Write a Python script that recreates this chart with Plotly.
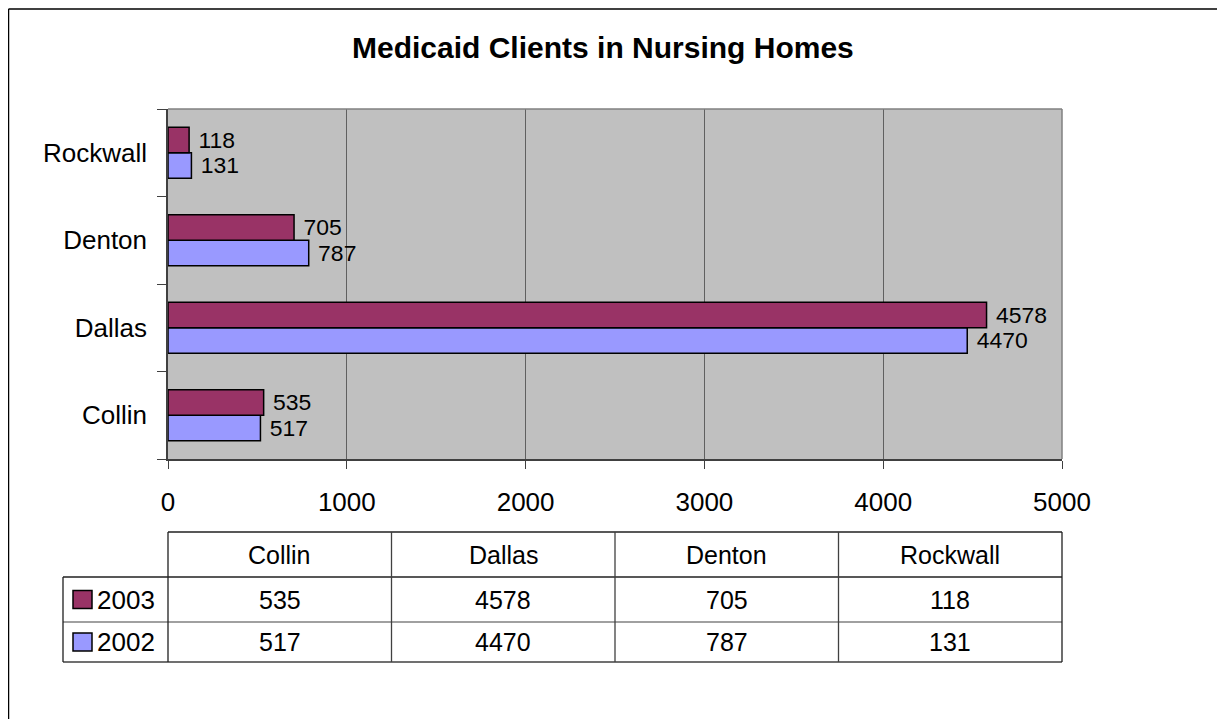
import plotly.graph_objects as go

categories = ["Collin", "Dallas", "Denton", "Rockwall"]
series_names = ["2003", "2002"]
values_2003 = [535, 4578, 705, 118]
values_2002 = [517, 4470, 787, 131]
x_ticks = [0, 1000, 2000, 3000, 4000, 5000]
title_text = "Medicaid Clients in Nursing Homes"

C2003 = "#993366"
C2002 = "#9999FF"
FONT = "Liberation Sans, Arial, sans-serif"

# the page body has an 8px default margin; work in screen pixels and offset
OFF = 8
W, H = 1225 - 2 * OFF, 727 - 2 * OFF
L, R, T, B = 168, 1062, 109, 459  # plot area in screen pixels


def px(xp):
    return (xp - L) / (R - L)


def py(yp):
    return (B - yp) / (B - T)


fig = go.Figure()
fig.add_trace(go.Bar(
    y=categories, x=values_2002, orientation="h", name=series_names[1],
    marker=dict(color=C2002, line=dict(color="black", width=1.5)),
    texttemplate=" %{x}", textposition="outside", cliponaxis=False,
    textfont=dict(size=27, color="black", family=FONT),
))
fig.add_trace(go.Bar(
    y=categories, x=values_2003, orientation="h", name=series_names[0],
    marker=dict(color=C2003, line=dict(color="black", width=1.5)),
    texttemplate=" %{x}", textposition="outside", cliponaxis=False,
    textfont=dict(size=27, color="black", family=FONT),
))

shapes = []
annotations = []

# plot border top / right
shapes.append(dict(type="line", xref="paper", yref="paper", x0=0, x1=1, y0=1, y1=1,
                   line=dict(color="#808080", width=1.5)))
shapes.append(dict(type="line", xref="paper", yref="paper", x0=1, x1=1, y0=0, y1=1,
                   line=dict(color="#808080", width=1.5)))

# outer chart border (top and left)
shapes.append(dict(type="line", xref="paper", yref="paper", x0=px(8.5), x1=px(1230), y0=py(9), y1=py(9),
                   line=dict(color="black", width=1.5)))
shapes.append(dict(type="line", xref="paper", yref="paper", x0=px(8.5), x1=px(8.5), y0=py(9), y1=py(740),
                   line=dict(color="black", width=1.5)))

# data table
col_w = (R - L) / len(categories)
col_edges = [L + i * col_w for i in range(len(categories) + 1)]
y_head_top, y_r1, y_r2, y_bot = 532, 577, 622, 662
tbl_left = 63

shapes.append(dict(type="line", xref="paper", yref="paper", x0=px(L), x1=px(R), y0=py(y_head_top), y1=py(y_head_top),
                   line=dict(color="#202020", width=1.3)))
shapes.append(dict(type="line", xref="paper", yref="paper", x0=px(tbl_left), x1=px(R), y0=py(y_r1), y1=py(y_r1),
                   line=dict(color="#202020", width=1.3)))
shapes.append(dict(type="line", xref="paper", yref="paper", x0=px(tbl_left), x1=px(R), y0=py(y_r2), y1=py(y_r2),
                   line=dict(color="#808080", width=1.3)))
shapes.append(dict(type="line", xref="paper", yref="paper", x0=px(tbl_left), x1=px(R), y0=py(y_bot), y1=py(y_bot),
                   line=dict(color="#404040", width=1.3)))
shapes.append(dict(type="line", xref="paper", yref="paper", x0=px(tbl_left), x1=px(tbl_left), y0=py(y_r1), y1=py(y_bot),
                   line=dict(color="#202020", width=1.3)))
for i, xe in enumerate(col_edges):
    shapes.append(dict(type="line", xref="paper", yref="paper", x0=px(xe), x1=px(xe), y0=py(y_head_top), y1=py(y_bot),
                       line=dict(color="#404040" if 0 < i < len(col_edges) - 1 else "#202020", width=1.3)))

row_centers = [(y_r1 + y_r2) / 2, (y_r2 + y_bot) / 2]
row_values = [values_2003, values_2002]
row_colors = [C2003, C2002]
for j, cat in enumerate(categories):
    cx = (col_edges[j] + col_edges[j + 1]) / 2
    annotations.append(dict(x=px(cx), y=py((y_head_top + y_r1) / 2), xref="paper", yref="paper",
                            text=cat, showarrow=False, xanchor="center", yanchor="middle",
                            font=dict(size=25, color="black", family=FONT)))
    for r in range(2):
        annotations.append(dict(x=px(cx), y=py(row_centers[r]), xref="paper", yref="paper",
                                text=str(row_values[r][j]), showarrow=False, xanchor="center", yanchor="middle",
                                font=dict(size=25, color="black", family=FONT)))

for r in range(2):
    yc = row_centers[r]
    shapes.append(dict(type="rect", xref="paper", yref="paper", x0=px(73), x1=px(92), y0=py(yc - 9), y1=py(yc + 9),
                       fillcolor=row_colors[r], line=dict(color="black", width=1.5)))
    annotations.append(dict(x=px(95), y=py(yc), xref="paper", yref="paper",
                            text=series_names[r], showarrow=False, xanchor="left", yanchor="middle",
                            font=dict(size=26, color="black", family=FONT)))

# title
annotations.append(dict(x=px(603), y=py(47), xref="paper", yref="paper", text="<b>" + title_text + "</b>",
                        showarrow=False, xanchor="center", yanchor="middle",
                        font=dict(size=30, color="black", family=FONT)))

fig.update_layout(
    width=W, height=H, autosize=False,
    margin=dict(l=L - OFF, r=(W + OFF) - R, t=T - OFF, b=(H + OFF) - B, pad=0),
    paper_bgcolor="white", plot_bgcolor="#C0C0C0",
    barmode="group", bargap=0.417, bargroupgap=0,
    showlegend=False,
    shapes=shapes, annotations=annotations,
    font=dict(family=FONT, color="black"),
)
fig.update_xaxes(
    range=[0, 5000], tickvals=x_ticks, showgrid=True, gridcolor="#606060", gridwidth=1.3,
    zeroline=False, showline=True, linecolor="#404040", linewidth=1.5,
    ticks="outside", ticklen=8, tickcolor="#404040", tickwidth=1.3,
    tickfont=dict(size=26, family=FONT, color="black"), ticklabelstandoff=11,
)
fig.update_yaxes(
    type="category", categoryorder="array", categoryarray=categories,
    showgrid=False, zeroline=False, showline=True, linecolor="#404040", linewidth=1.5,
    ticks="outside", tickson="boundaries", ticklen=9, tickcolor="#404040", tickwidth=1.3,
    tickfont=dict(size=26, family=FONT, color="black"), ticklabelstandoff=14,
)

fig.write_html("out.html")
